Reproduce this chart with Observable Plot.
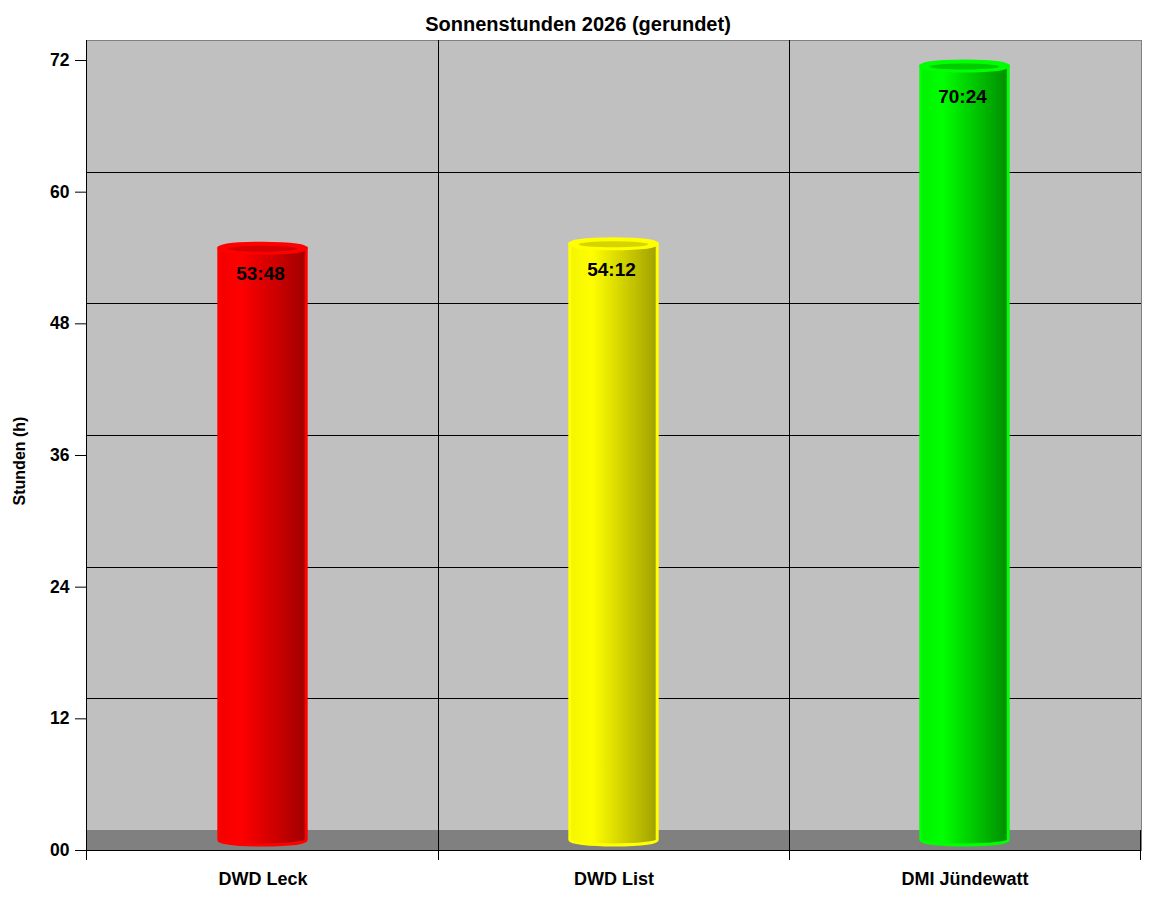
<!DOCTYPE html>
<html>
<head>
<meta charset="utf-8">
<script src="https://cdn.jsdelivr.net/npm/d3@7"></script>
<script src="https://cdn.jsdelivr.net/npm/@observablehq/plot@0.6"></script>
<style>
  html, body { margin: 0; padding: 0; background: #ffffff; }
  #chart svg { display: block; }
</style>
</head>
<body>
<div id="chart"></div>
<script>
// ---- data ----
const stations = ["DWD Leck", "DWD List", "DMI Jündewatt"];
const hours = [53.8, 54.2, 70.4];            // 53:48, 54:12, 70:24
const hourLabels = ["53:48", "54:12", "70:24"];
const barColors = ["#ff0000", "#ffff00", "#00ff00"];
const barDark = ["#a00000", "#a0a000", "#008c00"];
const yTicks = [0, 12, 24, 36, 48, 60, 72];
const gridTicks = [12, 24, 36, 48, 60];
const titleText = "Sonnenstunden 2026 (gerundet)";
const yLabel = "Stunden (h)";

const data = stations.map((s, i) => ({station: s, hours: hours[i], label: hourLabels[i], color: barColors[i], dark: barDark[i]}));

const FONT = "'Liberation Sans', Arial, sans-serif";
const DEPTH = 20;   // 3D floor depth in px

function bandwidthOf(scales, dims) {
  if (scales.x && typeof scales.x.bandwidth === "function") return scales.x.bandwidth();
  if (scales.scales && scales.scales.x && scales.scales.x.bandwidth != null) return scales.scales.x.bandwidth;
  return (dims.width - dims.marginLeft - dims.marginRight) / stations.length;
}

// floor + vertical lines + frame lines
function backdrop(index, scales, values, dims) {
  const g = d3.create("svg:g").attr("shape-rendering", "crispEdges");
  const x0 = dims.marginLeft, x1 = dims.width - dims.marginRight;
  const yb = scales.y(0), yt = dims.marginTop;
  g.append("rect").attr("x", x0).attr("y", yb - DEPTH).attr("width", x1 - x0).attr("height", DEPTH).attr("fill", "#808080");
  stations.slice(1).forEach(s => {
    const xx = Math.round(scales.x(s)) + 0.5;
    g.append("line").attr("x1", xx).attr("x2", xx).attr("y1", yt).attr("y2", yb + 10).attr("stroke", "#000");
  });
  g.append("line").attr("x1", x0 + 0.5).attr("x2", x0 + 0.5).attr("y1", yt).attr("y2", yb + 10).attr("stroke", "#000");
  g.append("line").attr("x1", x1 - 0.5).attr("x2", x1 - 0.5).attr("y1", yb - DEPTH).attr("y2", yb + 10).attr("stroke", "#000");
  g.append("line").attr("x1", x0).attr("x2", x1).attr("y1", yb + 0.5).attr("y2", yb + 0.5).attr("stroke", "#000");
  return g.node();
}

// cylinders
function cylinders(index, scales, values, dims) {
  const g = d3.create("svg:g");
  const defs = g.append("defs");
  const bw = bandwidthOf(scales, dims);
  const barW = bw * 0.249;
  data.forEach((d, i) => {
    const id = "cylgrad" + i;
    const grad = defs.append("linearGradient").attr("id", id).attr("x1", "0").attr("x2", "1").attr("y1", "0").attr("y2", "0");
    const leftC = d3.interpolateRgb(d.color, d.dark)(0.12);
    grad.append("stop").attr("offset", "0%").attr("stop-color", leftC);
    grad.append("stop").attr("offset", "25%").attr("stop-color", d.color);
    grad.append("stop").attr("offset", "100%").attr("stop-color", d.dark);

    const cx = scales.x(d.station) + bw / 2;
    const xl = cx - barW / 2, xr = cx + barW / 2;
    const rx = barW / 2, ry = 5;
    const yTop = scales.y(d.hours) - 11.5;
    const yBot = scales.y(0) - DEPTH / 2;
    g.append("path")
      .attr("d", `M${xl},${yTop} L${xl},${yBot} A${rx},${ry} 0 0 0 ${xr},${yBot} L${xr},${yTop} Z`)
      .attr("fill", `url(#${id})`)
      .attr("stroke", d.color).attr("stroke-width", 3);
    g.append("ellipse").attr("cx", cx).attr("cy", yTop).attr("rx", rx).attr("ry", ry)
      .attr("fill", d.color).attr("stroke", d.color).attr("stroke-width", 3);
    g.append("ellipse").attr("cx", cx).attr("cy", yTop + 0.5).attr("rx", rx * 0.8).attr("ry", ry * 0.6)
      .attr("fill", d3.interpolateRgb(d.color, d.dark)(0.45));
    // value label, placed slightly inside the bar top
    g.append("text").attr("x", cx - 2).attr("y", scales.y(d.hours * 0.974)).attr("text-anchor", "middle").attr("dominant-baseline", "middle")
      .attr("font-family", FONT).attr("font-weight", "bold").attr("font-size", 19).attr("fill", "#000")
      .text(d.label);
  });
  return g.node();
}

// title and y label
function texts(index, scales, values, dims) {
  const g = d3.create("svg:g").attr("font-family", FONT).attr("font-weight", "bold").attr("fill", "#000");
  g.append("text").attr("x", dims.width / 2 + 2).attr("y", 31).attr("text-anchor", "middle").attr("font-size", 20).text(titleText);
  const yc = (dims.marginTop + scales.y(0)) / 2 + 16;
  g.append("text").attr("transform", `translate(25,${yc}) rotate(-90)`).attr("text-anchor", "middle").attr("font-size", 16).text(yLabel);
  return g.node();
}

const chart = Plot.plot({
  width: 1152,
  height: 900,
  marginTop: 40,
  marginBottom: 50,
  marginLeft: 86,
  marginRight: 11,
  style: {fontFamily: FONT, fontWeight: "bold", color: "#000", background: "#fff", overflow: "visible"},
  x: {type: "band", domain: stations, padding: 0, label: null},
  y: {domain: [0, 72 * 810 / 790], ticks: yTicks, label: null},
  marks: [
    Plot.frame({fill: "#c0c0c0", stroke: "#808080"}),
    backdrop,
    Plot.ruleY(gridTicks, {y: d => d, dy: -DEPTH, stroke: "#000", strokeWidth: 1, shapeRendering: "crispEdges"}),
    Plot.axisY({ticks: yTicks, tickSize: 11, tickPadding: 6, tickFormat: d => String(d).padStart(2, "0"), fontSize: 17.5, fontWeight: "bold", label: null, stroke: "#000", fill: "#000"}),
    Plot.axisX({tickSize: 0, tickPadding: 22, fontSize: 18, fontWeight: "bold", label: null, fill: "#000"}),
    cylinders,
    texts
  ]
});

document.getElementById("chart").appendChild(chart);
</script>
</body>
</html>
